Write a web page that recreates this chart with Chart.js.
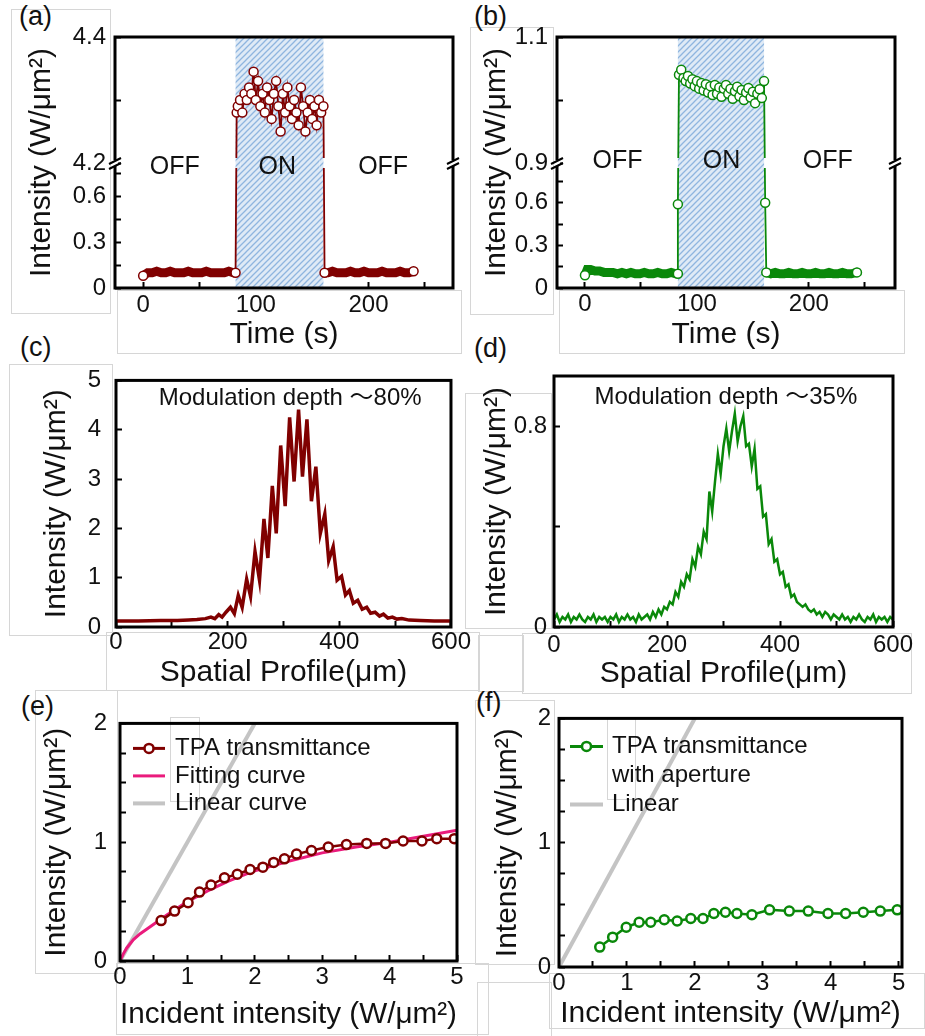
<!DOCTYPE html>
<html lang="en">
<head>
<meta charset="UTF-8">
<title>TPA switching and transmittance</title>
<script src="https://cdn.jsdelivr.net/npm/chart.js"></script>
<style>
  body { margin: 0; background: #fff; width: 925px; height: 1036px; position: relative; overflow: hidden;
         font-family: 'Liberation Sans', Arial, sans-serif; }
  .panel { position: absolute; }
  .box { position: absolute; border: 1px solid #d6d6d6; }
  .tag { position: absolute; font-size: 27px; color: #111; line-height: 1; }
</style>
</head>
<body>
  <!-- faint frames left over from the figure layout -->
  <div class="box" style="left:11px;top:9px;width:98px;height:303px"></div>
  <div class="box" style="left:117px;top:290px;width:343px;height:62px"></div>
  <div class="box" style="left:470px;top:27px;width:82px;height:286px"></div>
  <div class="box" style="left:559px;top:290px;width:344px;height:62px"></div>
  <div class="box" style="left:9px;top:364px;width:102px;height:270px"></div>
  <div class="box" style="left:106px;top:632px;width:372px;height:57px"></div>
  <div class="box" style="left:465px;top:393px;width:85px;height:234px"></div>
  <div class="box" style="left:478px;top:635px;width:44px;height:55px"></div>
  <div class="box" style="left:522px;top:633px;width:388px;height:59px"></div>
  <div class="box" style="left:35px;top:690px;width:81px;height:282px"></div>
  <div class="box" style="left:116px;top:963px;width:371px;height:70px"></div>
  <div class="box" style="left:170px;top:717px;width:28px;height:83px"></div>
  <div class="box" style="left:475px;top:700px;width:78px;height:263px"></div>
  <div class="box" style="left:477px;top:982px;width:73px;height:54px"></div>
  <div class="box" style="left:549px;top:973px;width:374px;height:54px"></div>
  <div class="box" style="left:607px;top:718px;width:27px;height:80px"></div>

  <div class="tag" style="left:19px;top:3px">(a)</div>
  <div class="tag" style="left:474px;top:3px">(b)</div>
  <div class="tag" style="left:20px;top:334px">(c)</div>
  <div class="tag" style="left:474px;top:335px">(d)</div>
  <div class="tag" style="left:21px;top:693px">(e)</div>
  <div class="tag" style="left:476px;top:689px">(f)</div>

  <div class="panel" style="left:0;top:0;width:470px;height:360px"><canvas id="chartA"></canvas></div>
  <div class="panel" style="left:460px;top:0;width:465px;height:360px"><canvas id="chartB"></canvas></div>
  <div class="panel" style="left:0;top:345px;width:478px;height:350px"><canvas id="chartC"></canvas></div>
  <div class="panel" style="left:460px;top:345px;width:465px;height:350px"><canvas id="chartD"></canvas></div>
  <div class="panel" style="left:0;top:690px;width:480px;height:346px"><canvas id="chartE"></canvas></div>
  <div class="panel" style="left:460px;top:690px;width:465px;height:346px"><canvas id="chartF"></canvas></div>

<script>
// ---------- data ----------
// (a) intensity vs time, switch on between 82 s and 160 s
const timeA = [
  0, 4, 8, 12, 16, 20, 24, 28, 32, 36, 40, 44, 48, 52, 56, 60, 64, 68, 72, 76, 80, 82,
  83, 84, 86, 88, 90, 92, 94, 96, 98, 100, 102, 104, 106, 108, 110, 112, 114, 116, 118, 120,
  122, 124, 126, 128, 130, 132, 134, 136, 138, 140, 142, 144, 146, 148, 150, 152, 154, 156, 158, 160,
  161, 164, 168, 172, 176, 180, 184, 188, 192, 196, 200, 204, 208, 212, 216, 220, 224, 228, 232, 236, 240
];
const intensityA = [
  0.08, 0.10, 0.10, 0.11, 0.10, 0.10, 0.11, 0.10, 0.10, 0.10, 0.11, 0.10, 0.10, 0.10, 0.11, 0.10, 0.10, 0.10, 0.10, 0.11, 0.10, 0.10,
  4.28, 4.29, 4.30, 4.28, 4.31, 4.30, 4.32, 4.31, 4.345, 4.30, 4.33, 4.29, 4.31, 4.28, 4.32, 4.30, 4.27, 4.31, 4.33, 4.29,
  4.25, 4.31, 4.28, 4.32, 4.29, 4.27, 4.30, 4.28, 4.26, 4.32, 4.29, 4.25, 4.28, 4.30, 4.27, 4.29, 4.26, 4.30, 4.28, 4.29,
  0.10, 0.10, 0.11, 0.10, 0.10, 0.10, 0.11, 0.10, 0.10, 0.11, 0.10, 0.10, 0.10, 0.11, 0.10, 0.10, 0.10, 0.11, 0.10, 0.10, 0.11
];
const onWindowA = [82, 160];
const stateTextA = ['OFF', 'ON', 'OFF'];
const stateAtA = [28, 119, 213];
const xTicksA = [0, 50, 100, 150, 200, 250];
const xLabelsA = [0, 100, 200];
const yTicksA = [0, 0.15, 0.3, 0.45, 0.6, 0.75, 4.2, 4.3, 4.4];
const yLabelsA = [0, 0.3, 0.6, 4.2, 4.4];

// (b) same measurement with aperture
const timeB = [
  0, 2, 5, 9, 13, 17, 21, 25, 29, 33, 37, 41, 45, 49, 53, 57, 61, 65, 69, 73, 77, 81, 83,
  83,
  84, 86, 88, 90, 92, 94, 96, 98, 100, 102, 104, 106, 108, 110, 112, 114, 116, 118, 120,
  122, 124, 126, 128, 130, 132, 134, 136, 138, 140, 142, 144, 146, 148, 150, 152, 154, 156, 158, 160,
  161,
  162, 166, 170, 174, 178, 182, 186, 190, 194, 198, 202, 206, 210, 214, 218, 222, 226, 230, 234, 238, 243
];
const intensityB = [
  0.09, 0.13, 0.13, 0.12, 0.12, 0.11, 0.11, 0.11, 0.10, 0.11, 0.10, 0.11, 0.10, 0.10, 0.11, 0.10, 0.10, 0.11, 0.10, 0.10, 0.11, 0.10, 0.10,
  0.59,
  1.040, 1.048, 1.035, 1.030, 1.038, 1.026, 1.033, 1.022, 1.030, 1.018, 1.027, 1.015, 1.025, 1.012, 1.022, 1.008, 1.024, 1.010, 1.020,
  1.005, 1.018, 1.024, 1.010, 1.018, 1.002, 1.014, 1.021, 1.006, 1.016, 1.000, 1.012, 1.019, 1.004, 1.013, 0.995, 1.010, 1.017, 1.003, 1.030,
  0.60,
  0.11, 0.10, 0.11, 0.10, 0.10, 0.11, 0.10, 0.10, 0.11, 0.10, 0.10, 0.11, 0.10, 0.10, 0.11, 0.10, 0.10, 0.11, 0.10, 0.10, 0.11
];
const onWindowB = [83, 160];
const stateTextB = ['OFF', 'ON', 'OFF'];
const stateAtB = [29, 122, 217];
const yTicksB = [0, 0.15, 0.3, 0.45, 0.6, 0.75, 0.9, 1.0, 1.1];
const yLabelsB = [0, 0.3, 0.6, 0.9, 1.1];

// (c) spatial profile, no aperture
const positionC = [
  0, 40, 80, 110, 130, 145, 160, 170, 177, 184, 190, 197, 205, 212, 219, 226, 234, 241, 249, 257,
  265, 272, 280, 287, 295, 303, 311, 319, 327, 334, 342, 350, 358, 366, 374, 381, 389, 396, 404, 411,
  418, 425, 433, 441, 449, 456, 464, 472, 479, 487, 495, 503, 512, 525, 545, 570, 600
];
const profileC = [
  0.12, 0.12, 0.13, 0.13, 0.14, 0.15, 0.17, 0.20, 0.17, 0.25, 0.20, 0.30, 0.40, 0.27, 0.64, 0.40, 0.97, 0.62, 1.53, 0.95,
  2.19, 1.40, 2.86, 1.90, 3.68, 2.45, 4.25, 2.95, 4.41, 3.05, 4.21, 2.55, 3.25, 1.90, 2.29, 1.35, 1.63, 0.95, 1.03, 0.65,
  0.74, 0.48, 0.54, 0.36, 0.40, 0.28, 0.30, 0.22, 0.26, 0.18, 0.20, 0.16, 0.17, 0.14, 0.13, 0.12, 0.12
];
const noteC = 'Modulation depth ～80%';

// (d) spatial profile, with aperture
const positionD = [
  0, 5, 10, 15, 20, 25, 30, 35, 40, 45, 50, 55, 60, 65, 70, 75, 80, 85, 90, 95,
  100, 105, 110, 115, 120, 125, 130, 135, 140, 145, 150, 155, 160, 165, 170, 175, 180, 185, 190, 195,
  200, 205, 210, 215, 220, 225, 230, 235, 240, 245, 250, 255, 260, 265, 270, 275, 280, 285, 290, 295,
  300, 305, 310, 315, 320, 325, 330, 335, 340, 345, 350, 355, 360, 365, 370, 375, 380, 385, 390, 395,
  400, 405, 410, 415, 420, 425, 430, 435, 440, 445, 450, 455, 460, 465, 470, 475, 480, 485, 490, 495,
  500, 505, 510, 515, 520, 525, 530, 535, 540, 545, 550, 555, 560, 565, 570, 575, 580, 585, 590, 595, 600
];
const profileD = [
  0.03, 0.05, 0.02, 0.04, 0.03, 0.05, 0.02, 0.04, 0.03, 0.05, 0.03, 0.02, 0.04, 0.03, 0.05, 0.02, 0.04, 0.03, 0.04, 0.02,
  0.04, 0.03, 0.05, 0.02, 0.04, 0.03, 0.05, 0.03, 0.04, 0.02, 0.05, 0.03, 0.04, 0.05, 0.03, 0.06, 0.04, 0.07, 0.05, 0.08,
  0.07, 0.10, 0.09, 0.14, 0.12, 0.18, 0.16, 0.21, 0.19, 0.27, 0.24, 0.32, 0.29, 0.38, 0.35, 0.54, 0.46, 0.58, 0.69, 0.61,
  0.72, 0.79, 0.70, 0.78, 0.85, 0.74, 0.80, 0.84, 0.72, 0.73, 0.64, 0.71, 0.55, 0.56, 0.44, 0.45, 0.33, 0.35, 0.26, 0.27,
  0.21, 0.22, 0.16, 0.17, 0.12, 0.13, 0.10, 0.09, 0.08, 0.09, 0.07, 0.06, 0.07, 0.05, 0.06, 0.04, 0.06, 0.05, 0.03, 0.05,
  0.04, 0.03, 0.05, 0.03, 0.04, 0.02, 0.04, 0.03, 0.05, 0.03, 0.02, 0.04, 0.03, 0.05, 0.02, 0.04, 0.03, 0.04, 0.02, 0.04, 0.03
];
const noteD = 'Modulation depth ～35%';
const xTicksCD = [0, 100, 200, 300, 400, 500, 600];
const xLabelsCD = [0, 200, 400, 600];

// (e) output vs incident intensity
const incidentE = [0.61, 0.81, 1.01, 1.18, 1.35, 1.55, 1.74, 1.93, 2.12, 2.28, 2.44, 2.62, 2.84, 3.09, 3.36, 3.66, 3.94, 4.20, 4.48, 4.70, 4.96];
const outputE = [0.34, 0.42, 0.49, 0.58, 0.64, 0.70, 0.73, 0.77, 0.79, 0.83, 0.86, 0.90, 0.93, 0.96, 0.98, 0.99, 0.99, 1.01, 1.01, 1.03, 1.03];
const fitInE = [0, 0.05, 0.1, 0.2, 0.3, 0.4, 0.5, 0.7, 1, 1.3, 1.6, 2, 2.5, 3, 3.5, 4, 4.5, 5];
const fitOutE = [0, 0.06, 0.11, 0.18, 0.23, 0.27, 0.31, 0.39, 0.50, 0.59, 0.67, 0.76, 0.84, 0.91, 0.96, 1.00, 1.05, 1.10];
const linearIn = [0, 2.1];
const linearOut = [0, 2.1];

// (f) output vs incident intensity, with aperture
const incidentF = [0.60, 0.79, 0.99, 1.18, 1.35, 1.55, 1.74, 1.94, 2.12, 2.28, 2.45, 2.62, 2.84, 3.10, 3.39, 3.67, 3.96, 4.22, 4.48, 4.73, 4.98];
const outputF = [0.16, 0.24, 0.32, 0.36, 0.36, 0.38, 0.37, 0.39, 0.39, 0.43, 0.44, 0.43, 0.42, 0.46, 0.45, 0.45, 0.43, 0.43, 0.44, 0.45, 0.46];
const xTicksEF = [0, 0.5, 1, 1.5, 2, 2.5, 3, 3.5, 4, 4.5, 5];
const xLabelsEF = [0, 1, 2, 3, 4, 5];
const yTicksEF = [0, 0.25, 0.5, 0.75, 1, 1.25, 1.5, 1.75, 2];
const yLabelsEF = [0, 1, 2];

// ---------- styling ----------
const FONT = "'Liberation Sans', Arial, sans-serif";
const MAROON = '#800000';
const GREEN = '#0a880a';
const PINK = '#ea1b7c';
const GRAY = '#c4c4c4';
const INTENSITY = 'Intensity (W/μm²)';

Chart.defaults.font.family = FONT;
Chart.defaults.color = '#111';

const pts = (xs, ys) => xs.map((x, i) => ({ x, y: ys[i] }));

// linear axis with a gap: [0, lowMax] below the break, [highMin, highMax] above it
class BrokenLinearScale extends Chart.LinearScale {
  static id = 'brokenLinear';
  getPixelForValue(value) {
    if (value === null || value === undefined || isNaN(value)) return NaN;
    const b = this.options.brk;
    const dec = value <= b.lowMax
      ? b.split * value / b.lowMax
      : b.split + (1 - b.split) * (value - b.highMin) / (b.highMax - b.highMin);
    return this.getPixelForDecimal(dec);
  }
  getValueForPixel(pixel) {
    const b = this.options.brk;
    const dec = this.getDecimalForPixel(pixel);
    return dec <= b.split
      ? dec / b.split * b.lowMax
      : b.highMin + (dec - b.split) / (1 - b.split) * (b.highMax - b.highMin);
  }
}
Chart.register(BrokenLinearScale);

function xAxis(c) {
  return {
    type: 'linear', position: 'bottom', min: c.min, max: c.max,
    afterBuildTicks: s => { s.ticks = c.ticks.map(v => ({ value: v })); },
    afterFit: s => { s.height = c.size; },
    grid: { drawOnChartArea: false, tickLength: -6, tickWidth: 2, tickColor: '#000' },
    border: { display: false },
    ticks: {
      autoSkip: false, maxRotation: 0, padding: c.pad, font: { size: 24 },
      callback: v => c.labels.includes(v) ? String(v) : ''
    },
    title: { display: true, text: c.title, font: { size: 30 }, padding: { top: 0, bottom: c.titlePad } }
  };
}

function yAxis(c) {
  return {
    type: c.type || 'linear', position: 'left', min: c.min, max: c.max, brk: c.brk,
    afterBuildTicks: s => { s.ticks = c.ticks.map(v => ({ value: v })); },
    afterFit: s => { s.width = c.size; },
    grid: { drawOnChartArea: false, tickLength: -6, tickWidth: 2, tickColor: '#000' },
    border: { display: false },
    ticks: {
      autoSkip: false, padding: c.pad, font: { size: 24 },
      callback: v => c.labels.includes(v) ? String(v) : ''
    },
    title: { display: true, text: INTENSITY, font: { size: 30 }, padding: { top: c.titlePad, bottom: 0 } }
  };
}

// ---------- plugins ----------
const framePlugin = {
  id: 'frame',
  afterDatasetsDraw(chart) {
    const { ctx, chartArea: a, scales: { y } } = chart;
    ctx.save();
    ctx.strokeStyle = '#000';
    ctx.lineWidth = 3;
    ctx.strokeRect(a.left, a.top, a.right - a.left, a.bottom - a.top);
    if (y.options.brk) {
      const yb = y.getPixelForValue(y.options.brk.highMin);
      ctx.lineWidth = 2;
      [a.left, a.right].forEach(px => {
        ctx.fillStyle = '#fff';
        ctx.fillRect(px - 3, yb - 3, 6, 6);
        ctx.beginPath();
        ctx.moveTo(px - 6, yb + 1); ctx.lineTo(px + 6, yb - 5);
        ctx.moveTo(px - 6, yb + 6); ctx.lineTo(px + 6, yb);
        ctx.stroke();
      });
    }
    ctx.restore();
  }
};

function hatchPattern(ctx) {
  const c = document.createElement('canvas');
  c.width = c.height = 6;
  const g = c.getContext('2d');
  g.fillStyle = '#dfeaf6';
  g.fillRect(0, 0, 6, 6);
  g.strokeStyle = '#8fb5df';
  g.lineWidth = 1.3;
  g.beginPath();
  g.moveTo(0, 6); g.lineTo(6, 0);
  g.moveTo(-1, 1); g.lineTo(1, -1);
  g.moveTo(5, 7); g.lineTo(7, 5);
  g.stroke();
  return ctx.createPattern(c, 'repeat');
}

const switchPlugin = {
  id: 'switchBand',
  beforeDatasetsDraw(chart, args, o) {
    const { ctx, chartArea: a, scales: { x } } = chart;
    const x0 = x.getPixelForValue(o.window[0]), x1 = x.getPixelForValue(o.window[1]);
    ctx.save();
    ctx.fillStyle = hatchPattern(ctx);
    ctx.fillRect(x0, a.top, x1 - x0, a.bottom - a.top);
    ctx.restore();
  },
  afterDatasetsDraw(chart, args, o) {
    const { ctx, scales: { x, y } } = chart;
    const yb = y.getPixelForValue(y.options.brk.highMin);
    const x0 = x.getPixelForValue(o.window[0]), x1 = x.getPixelForValue(o.window[1]);
    const hatch = hatchPattern(ctx);
    ctx.save();
    // small gap in the switching edges where the axis is broken
    o.window.forEach(v => {
      const px = x.getPixelForValue(v) + (v === o.window[0] ? 1 : 0);
      ctx.fillStyle = '#fff';
      ctx.fillRect(px - 4, yb - 5, 8, 10);
      const l = Math.max(px - 4, x0), r = Math.min(px + 4, x1);
      if (r > l) { ctx.fillStyle = hatch; ctx.fillRect(l, yb - 5, r - l, 10); }
    });
    ctx.fillStyle = '#111';
    ctx.font = `25px ${FONT}`;
    ctx.textAlign = 'center';
    ctx.textBaseline = 'middle';
    o.text.forEach((t, i) => ctx.fillText(t, x.getPixelForValue(o.at[i]), yb + o.dy));
    ctx.restore();
  }
};

const notePlugin = {
  id: 'note',
  afterDatasetsDraw(chart, args, o) {
    const { ctx, chartArea: a } = chart;
    ctx.save();
    ctx.fillStyle = '#111';
    ctx.font = `24px ${FONT}, 'Noto Sans CJK SC'`;
    ctx.textAlign = 'center';
    ctx.textBaseline = 'middle';
    ctx.fillText(o.text, a.left + o.fx * (a.right - a.left), a.top + o.dy);
    ctx.restore();
  }
};

const legendPlugin = {
  id: 'inLegend',
  afterDatasetsDraw(chart, args, o) {
    const { ctx, chartArea: a } = chart;
    let y = a.top + o.top;
    ctx.save();
    ctx.font = `24px ${FONT}`;
    ctx.textBaseline = 'middle';
    chart.data.datasets.forEach(ds => {
      const x0 = a.left + o.left, x1 = x0 + o.sym;
      ctx.strokeStyle = ds.borderColor;
      ctx.lineWidth = Math.max(ds.borderWidth, 3);
      ctx.beginPath(); ctx.moveTo(x0, y); ctx.lineTo(x1, y); ctx.stroke();
      if (ds.pointRadius) {
        ctx.beginPath();
        ctx.arc((x0 + x1) / 2, y, ds.pointRadius, 0, Math.PI * 2);
        ctx.fillStyle = '#fff'; ctx.fill();
        ctx.lineWidth = ds.pointBorderWidth; ctx.strokeStyle = ds.pointBorderColor; ctx.stroke();
      }
      ctx.fillStyle = '#111';
      ds.label.split('\n').forEach(line => { ctx.fillText(line, x1 + o.gap, y); y += o.row; });
    });
    ctx.restore();
  }
};

function makeChart(id, datasets, o) {
  return new Chart(document.getElementById(id), {
    type: 'line',
    data: { datasets },
    plugins: [framePlugin, switchPlugin, notePlugin, legendPlugin],
    options: {
      responsive: true, maintainAspectRatio: false, animation: false,
      layout: { padding: { top: o.padTop, right: o.padRight, left: 0, bottom: 0 } },
      plugins: {
        legend: { display: false }, tooltip: { enabled: false },
        switchBand: o.band || false, note: o.note || false, inLegend: o.legend || false
      },
      scales: { x: o.x, y: o.y }
    }
  });
}

// switching traces: thick band while off, open circles while on
const isOff = v => v < 0.3;
function switchSeries(times, values, color) {
  return {
    data: pts(times, values),
    borderColor: color, borderWidth: 1.8, borderCapStyle: 'round',
    pointRadius: ctx => {
      const d = ctx.dataset.data, i = ctx.dataIndex;
      if (!isOff(d[i].y)) return 4.5;
      if (i === 0 || i === d.length - 1 || !isOff(d[i - 1].y) || !isOff(d[i + 1].y)) return 4.5;
      return 0;
    },
    pointBackgroundColor: '#fff', pointBorderColor: color, pointBorderWidth: 1.5,
    segment: { borderWidth: ctx => isOff(ctx.p0.parsed.y) && isOff(ctx.p1.parsed.y) ? 9 : 1.8 }
  };
}

// (a)
makeChart('chartA', [switchSeries(timeA, intensityA, MAROON)], {
  padTop: 37, padRight: 17,
  band: { window: onWindowA, text: stateTextA, at: stateAtA, dy: 4 },
  x: xAxis({ min: -25, max: 275, ticks: xTicksA, labels: xLabelsA, title: 'Time (s)', size: 72, pad: 9, titlePad: 7 }),
  y: yAxis({ type: 'brokenLinear', min: 0, max: 4.4, brk: { lowMax: 0.82, highMin: 4.2, highMax: 4.4, split: 0.498 },
             ticks: yTicksA, labels: yLabelsA, size: 115, pad: 15, titlePad: 24 })
});

// (b)
makeChart('chartB', [switchSeries(timeB, intensityB, GREEN)], {
  padTop: 37, padRight: 30,
  band: { window: onWindowB, text: stateTextB, at: stateAtB, dy: -2 },
  x: xAxis({ min: -25, max: 277, ticks: xTicksA, labels: xLabelsA, title: 'Time (s)', size: 72, pad: 8, titlePad: 7 }),
  y: yAxis({ type: 'brokenLinear', min: 0, max: 1.1, brk: { lowMax: 0.88, highMin: 0.9, highMax: 1.1, split: 0.498 },
             ticks: yTicksB, labels: yLabelsB, size: 97, pad: 15, titlePad: 19 })
});

// (c)
makeChart('chartC', [{
  data: pts(positionC, profileC), borderColor: MAROON, borderWidth: 3.5, pointRadius: 0
}], {
  padTop: 30, padRight: 23,
  note: { text: noteC, fx: 0.52, dy: 18 },
  x: xAxis({ min: 0, max: 600, ticks: xTicksCD, labels: xLabelsCD, title: 'Spatial Profile(μm)', size: 68, pad: 7, titlePad: 4 }),
  y: yAxis({ min: 0, max: 5, ticks: [0, 1, 2, 3, 4, 5], labels: [0, 1, 2, 3, 4, 5], size: 116, pad: 21, titlePad: 39 })
});

// (d)
makeChart('chartD', [{
  data: pts(positionD, profileD), borderColor: GREEN, borderWidth: 2.5, pointRadius: 0
}], {
  padTop: 31, padRight: 32,
  note: { text: noteD, fx: 0.507, dy: 21 },
  x: xAxis({ min: 0, max: 600, ticks: xTicksCD, labels: xLabelsCD, title: 'Spatial Profile(μm)', size: 68, pad: 10, titlePad: 3 }),
  y: yAxis({ min: 0, max: 1, ticks: [0, 0.4, 0.8], labels: [0, 0.8], size: 94, pad: 13, titlePad: 19 })
});

// (e)
makeChart('chartE', [
  { label: 'TPA transmittance', data: pts(incidentE, outputE), borderColor: MAROON, borderWidth: 2.5,
    pointRadius: 4.5, pointBackgroundColor: '#fff', pointBorderColor: MAROON, pointBorderWidth: 2.5 },
  { label: 'Fitting curve', data: pts(fitInE, fitOutE), borderColor: PINK, borderWidth: 3, pointRadius: 0 },
  { label: 'Linear curve', data: pts(linearIn, linearOut), borderColor: GRAY, borderWidth: 4, pointRadius: 0 }
], {
  padTop: 18, padRight: 23,
  legend: { left: 13, top: 25, sym: 32, gap: 10, row: 27.5 },
  x: xAxis({ min: 0, max: 5, ticks: xTicksEF, labels: xLabelsEF, title: 'Incident intensity (W/μm²)', size: 75, pad: 8, titlePad: 3 }),
  y: yAxis({ min: 0, max: 2, ticks: yTicksEF, labels: yLabelsEF, size: 120, pad: 19, titlePad: 39 })
});

// (f)
makeChart('chartF', [
  { label: 'TPA transmittance\nwith aperture', data: pts(incidentF, outputF), borderColor: GREEN, borderWidth: 2.5,
    pointRadius: 4.5, pointBackgroundColor: '#fff', pointBorderColor: GREEN, pointBorderWidth: 2.5 },
  { label: 'Linear', data: pts(linearIn, linearOut), borderColor: GRAY, borderWidth: 4, pointRadius: 0 }
], {
  padTop: 24, padRight: 23,
  legend: { left: 11, top: 28, sym: 33, gap: 9, row: 29 },
  x: xAxis({ min: 0, max: 5.05, ticks: xTicksEF, labels: xLabelsEF, title: 'Incident intensity (W/μm²)', size: 69, pad: 8, titlePad: 4 }),
  y: yAxis({ min: 0, max: 2, ticks: yTicksEF, labels: yLabelsEF, size: 99, pad: 14, titlePad: 30 })
});
</script>
</body>
</html>
